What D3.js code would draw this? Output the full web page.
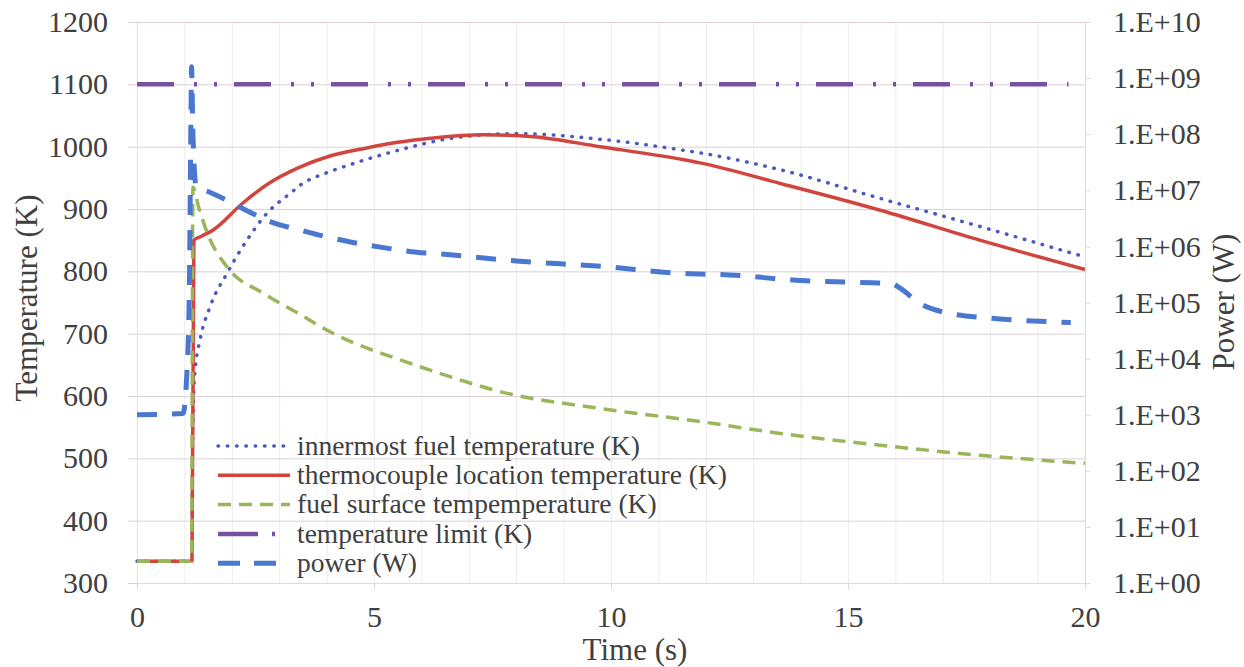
<!DOCTYPE html>
<html>
<head>
<meta charset="utf-8">
<script src="https://cdn.jsdelivr.net/npm/d3@7"></script>
<style>
body { margin: 0; background: #fff; }
</style>
</head>
<body>
<script>
var FONT = "'Liberation Serif', 'Times New Roman', serif";

// time (s) and temperatures (K)
var tInner = [0, 1.15, 1.18, 1.22, 1.33, 1.54, 1.9, 2.32, 2.74, 3.23, 3.44, 4.07, 4.49, 5.55, 6.6, 8.0, 9.77, 11.46, 11.88, 13.57, 15.68, 17.78, 20];
var innermost = [335, 335, 560, 637, 690, 743, 797, 850, 893, 925, 938, 960, 971, 995, 1013, 1021, 1012, 995, 990, 963, 917, 872, 823];

var tThermo = [0, 1.16, 1.2, 1.35, 1.6, 2.24, 2.8, 3.4, 4.07, 4.85, 5.5, 6.25, 7.3, 8.35, 9.77, 11.46, 11.88, 13.57, 15.68, 17.78, 20];
var thermocouple = [335, 335, 850, 856, 866, 910, 942, 966, 985, 998, 1007, 1014, 1019, 1016, 1000, 980, 974, 941, 898, 850, 803];

var tSurface = [0, 1.15, 1.18, 1.3, 1.48, 1.9, 2.66, 3.44, 4.07, 4.49, 5.55, 6.6, 7.66, 9.77, 11.88, 13.57, 15.68, 17.78, 20];
var surface = [335, 335, 935, 903, 862, 807, 765, 731, 703, 688, 658, 631, 607, 580, 559, 540, 521, 505, 492];

var tLimit = [0, 19.65];
var limit = [1100, 1100];

// power (W), right log axis
var tPower = [0, 0.97, 1.05, 1.1, 1.14, 1.15, 1.18, 1.25, 1.5, 1.9, 2.4, 2.9, 3.4, 4.0, 4.5, 5.2, 5.9, 6.6, 8.0, 9.8, 11.5, 12.5, 13.9, 15.5, 15.9, 16.1, 16.5, 17.1, 18.1, 19.7];
var power = [1000, 1050, 5000, 1e5, 3e8, 1.6e9, 1e8, 1.15e7, 9.5e6, 6.6e6, 4e6, 2.6e6, 2e6, 1.48e6, 1.2e6, 9.5e5, 7.9e5, 7.1e5, 5.5e5, 4.4e5, 3.3e5, 3.1e5, 2.5e5, 2.25e5, 2.2e5, 1.8e5, 9.8e4, 6.5e4, 5.2e4, 4.4e4];

// ticks
var timeTicks = [0, 5, 10, 15, 20];
var timeGrid = d3.range(0, 21, 1);
var tempTicks = [300, 400, 500, 600, 700, 800, 900, 1000, 1100, 1200];
var powerTicks = [1, 10, 100, 1e3, 1e4, 1e5, 1e6, 1e7, 1e8, 1e9, 1e10];

var legendNames = ["innermost fuel temperature (K)", "thermocouple location temperature (K)",
  "fuel surface tempemperature (K)", "temperature limit (K)", "power (W)"];

var margin = {top: 22, right: 159, bottom: 84, left: 137},
    width = 1244 - margin.left - margin.right,
    height = 667 - margin.top - margin.bottom;

var x = d3.scaleLinear().domain([0, 20]).range([0, width]);
var yT = d3.scaleLinear().domain([300, 1200]).range([height, 0]);
var yP = d3.scaleLog().domain([1, 1e10]).range([height, 0]);

var svg = d3.select("body").append("svg")
    .attr("width", 1244)
    .attr("height", 667)
    .style("font-family", FONT)
  .append("g")
    .attr("transform", "translate(" + margin.left + "," + margin.top + ")");

function styleText(g) {
  g.attr("font-family", FONT);
  g.selectAll("text")
      .attr("font-family", FONT)
      .attr("font-size", 30)
      .attr("fill", "#404040");
}

// vertical grid, every second
svg.append("g")
    .attr("transform", "translate(0," + height + ")")
    .call(d3.axisBottom(x).tickValues(timeGrid).tickSize(-height).tickFormat(""))
    .call(function(g) {
      g.select(".domain").remove();
      g.selectAll("line").attr("stroke", "#ececec");
    });

// horizontal grid (sticks out left as tick marks)
svg.append("g")
    .attr("transform", "translate(-9,0)")
    .call(d3.axisRight(yT).tickValues(tempTicks).tickSize(width + 9).tickFormat(""))
    .call(function(g) {
      g.select(".domain").remove();
      g.selectAll("line").attr("stroke", "#dccfd8");
    });

// left axis labels
svg.append("g")
    .call(d3.axisLeft(yT).tickValues(tempTicks).tickSize(0).tickPadding(29).tickFormat(d3.format("d")))
    .call(function(g) {
      g.select(".domain").attr("stroke", "#e2e2e2");
      styleText(g);
    });

// bottom axis
svg.append("g")
    .attr("transform", "translate(0," + height + ")")
    .call(d3.axisBottom(x).tickValues(timeTicks).tickSize(7).tickPadding(16))
    .call(function(g) {
      g.select(".domain").attr("stroke", "#dcdcdc");
      g.selectAll("line").attr("stroke", "#dcdcdc");
      styleText(g);
    });

// right log axis
svg.append("g")
    .attr("transform", "translate(" + width + ",0)")
    .call(d3.axisRight(yP).tickValues(powerTicks).tickSize(6).tickPadding(22)
      .tickFormat(function(d) {
        var e = Math.round(Math.log10(d));
        return "1.E+" + (e < 10 ? "0" + e : e);
      }))
    .call(function(g) {
      g.select(".domain").attr("stroke", "#dcdcdc");
      g.selectAll("line").attr("stroke", "#dcdcdc");
      styleText(g);
    });

// series definitions
var series = [
  {t: tInner, v: innermost, y: yT, color: "#4b58c0", w: 3.5, dash: "0.5,8.8", cap: "round"},
  {t: tThermo, v: thermocouple, y: yT, color: "#d0463f", w: 3.5, dash: null, cap: "butt"},
  {t: tSurface, v: surface, y: yT, color: "#9bb55a", w: 3.5, dash: "13,8", cap: "butt"},
  {t: tLimit, v: limit, y: yT, color: "#7950a0", w: 4.5, dash: "37,20,3,17,3,17", cap: "butt"},
  {t: tPower, v: power, y: yP, color: "#4a78d0", w: 5, dash: "20,15", cap: "butt"}
];

series.forEach(function(s) {
  var pts = s.t.map(function(t, i) { return [t, s.v[i]]; });
  var line = d3.line()
      .x(function(d) { return x(d[0]); })
      .y(function(d) { return s.y(d[1]); })
      .curve(d3.curveMonotoneX);
  svg.append("path")
      .datum(pts)
      .attr("fill", "none")
      .attr("stroke", s.color)
      .attr("stroke-width", s.w)
      .attr("stroke-dasharray", s.dash)
      .attr("stroke-linecap", s.cap)
      .attr("stroke-linejoin", "round")
      .attr("d", line);
});

// legend
var legendDash = ["0.5,8.8", null, "13,8", "40,14,3,40", "22,14,22"];
var legend = svg.append("g").attr("transform", "translate(81,424)");
series.forEach(function(s, i) {
  var row = legend.append("g").attr("transform", "translate(0," + (i * 29.3) + ")");
  row.append("line")
      .attr("x1", 0).attr("x2", 72)
      .attr("stroke", s.color)
      .attr("stroke-width", s.w)
      .attr("stroke-dasharray", legendDash[i])
      .attr("stroke-linecap", s.cap);
  row.append("text")
      .attr("x", 79)
      .attr("dy", "0.32em")
      .attr("font-family", FONT)
      .attr("font-size", 27.5)
      .attr("fill", "#404040")
      .text(legendNames[i]);
});

// axis titles
svg.append("text")
    .attr("transform", "translate(" + (27 - margin.left) + "," + (298 - margin.top) + ") rotate(-90)")
    .attr("text-anchor", "middle")
    .attr("dy", "0.32em")
    .attr("font-family", FONT)
    .attr("font-size", 31)
    .attr("fill", "#404040")
    .text("Temperature (K)");

svg.append("text")
    .attr("transform", "translate(" + (1224 - margin.left) + "," + (302 - margin.top) + ") rotate(-90)")
    .attr("text-anchor", "middle")
    .attr("dy", "0.32em")
    .attr("font-family", FONT)
    .attr("font-size", 31)
    .attr("fill", "#404040")
    .text("Power (W)");

svg.append("text")
    .attr("x", 635 - margin.left)
    .attr("y", 650 - margin.top)
    .attr("text-anchor", "middle")
    .attr("dy", "0.32em")
    .attr("font-family", FONT)
    .attr("font-size", 31)
    .attr("fill", "#404040")
    .text("Time (s)");
</script>
</body>
</html>
